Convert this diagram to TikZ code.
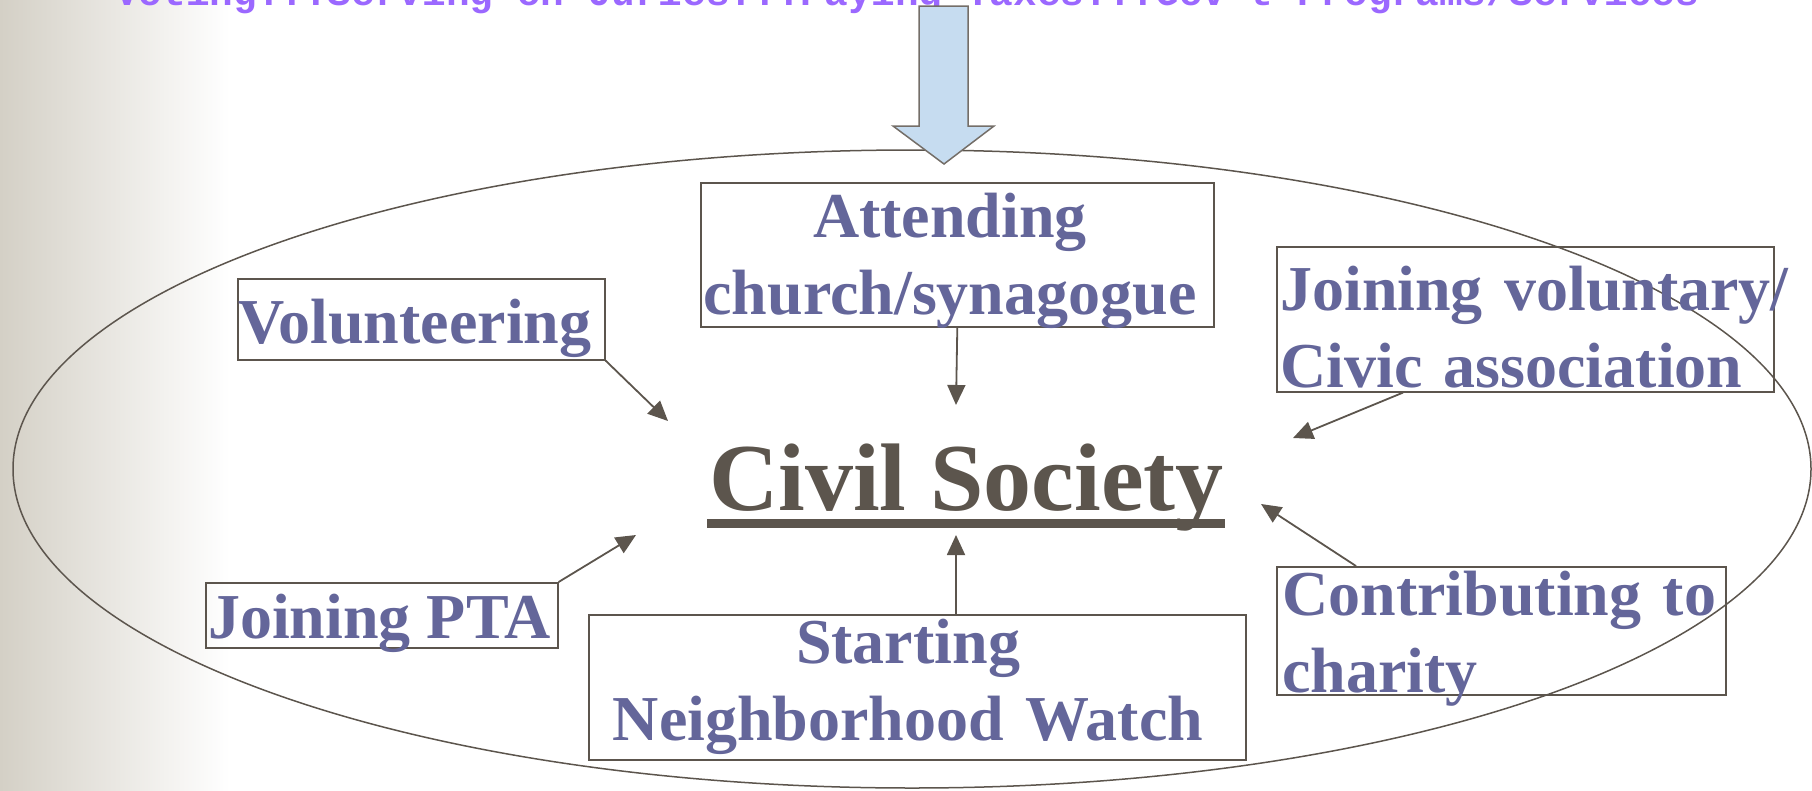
\documentclass[tikz,border=0pt]{standalone}
\usepackage{fontspec}
\setmainfont{Liberation Serif}
\newfontfamily\dutyfont{Liberation Mono}
\usetikzlibrary{arrows.meta}

\definecolor{labelblue}{RGB}{100,102,154}
\definecolor{linegray}{RGB}{92,85,77}
\definecolor{dutyviolet}{RGB}{155,104,255}
\definecolor{arrowblue}{RGB}{198,220,240}
\definecolor{sidegray}{RGB}{212,208,198}

\tikzset{
  box/.style={draw=linegray, line width=1.6pt, inner sep=0pt, anchor=north west},
  lbl/.style={text=labelblue, inner sep=0pt, font=\fontsize{64}{77}\selectfont\bfseries},
  link/.style={line width=1.8pt, draw=linegray, -{Triangle[length=20pt,width=18pt]}},
}

\begin{document}
\begin{tikzpicture}[x=1pt,y=-1pt]
\useasboundingbox (0,0) rectangle (1812,790);
\clip (0,0) rectangle (1812,790);

% background
\shade[left color=sidegray, right color=white] (0,0) rectangle (230,790);

\node[anchor=base west, inner sep=0pt, text=dutyviolet, font=\dutyfont\fontsize{39.4}{40}\selectfont\bfseries] (duties) at (115,5) {Voting...Serving on Juries...Paying Taxes...Gov't Programs/Services};

\draw[line width=1.5pt, linegray] (912,469) ellipse [x radius=899, y radius=319];

% big arrow from the top
\draw[fill=arrowblue, draw=linegray!85, line width=1.5pt, line join=miter]
  (919,6) -- (968,6) -- (968,126) -- (994,126) -- (944,164) -- (893,126) -- (919,126) -- cycle;

% boxes
\node[box, minimum width=367, minimum height=81] (vol) at (237,278) {};
\node[box, minimum width=513, minimum height=144] (att) at (700,182) {};
\node[box, minimum width=497, minimum height=145] (join) at (1276,246) {};
\node[box, minimum width=449, minimum height=128] (char) at (1276,566) {};
\node[box, minimum width=352, minimum height=65] (pta) at (205,582) {};
\node[box, minimum width=657, minimum height=145] (watch) at (588,614) {};

% labels
\node[lbl, anchor=base west] (voltxt) at (238,343) {Volunteering};
\node[lbl, anchor=base, text width=600, align=center] (atttxt) at (950,237) {Attending\\church/synagogue};
\node[lbl, anchor=base west, text width=540, align=left] (jointxt) at (1280,310) {Joining voluntary/\\Civic association};
\node[lbl, anchor=base west, text width=500, align=left] (chartxt) at (1282,615) {Contributing to\\charity};
\node[lbl, anchor=base west] (ptatxt) at (208,638) {Joining PTA};
\node[lbl, anchor=base, text width=700, align=center] (watchtxt) at (908,663) {Starting\\Neighborhood Watch};

\node[anchor=base west, inner sep=0pt, text=linegray, font=\fontsize{96}{100}\selectfont\bfseries] (civ) at (709,510) {Civil Society};
\draw[line width=9pt, linegray] ([xshift=-2pt,yshift=-13.5pt]civ.base west) -- ([xshift=1pt,yshift=-13.5pt]civ.base east);

% arrows into civil society
\coordinate (c1) at (668,421);
\coordinate (c2) at (956,405);
\coordinate (c3) at (1293,438);
\coordinate (c4) at (1261,504);
\coordinate (c5) at (636,535);
\coordinate (c6) at (956,535);

\path[link] (vol.south east) -- (c1);
\path[link] (att.south) -- (c2);
\path[link] ([xshift=127pt]join.south west) -- (c3);
\path[link] ([xshift=80pt]char.north west) -- (c4);
\path[link] (pta.north east) -- (c5);
\path[link] ([xshift=368pt]watch.north west) -- (c6);
\end{tikzpicture}
\end{document}
